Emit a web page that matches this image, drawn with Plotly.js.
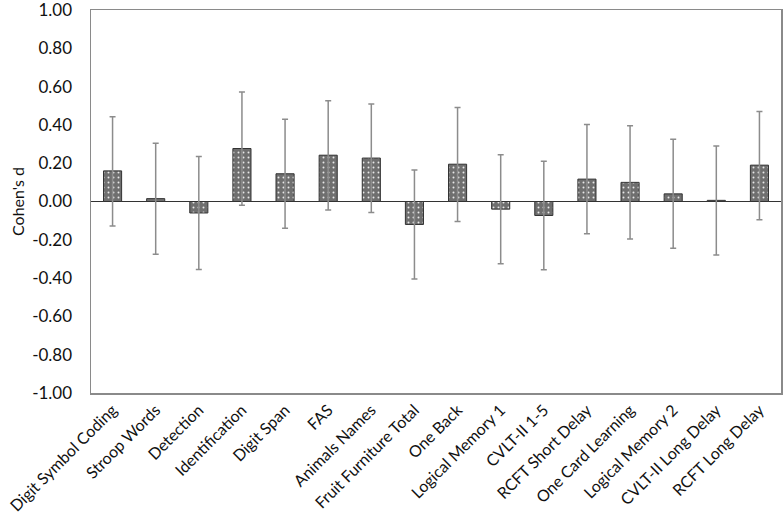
<!DOCTYPE html>
<html>
<head>
<meta charset="utf-8">
<script src="https://cdn.plot.ly/plotly-3.0.1.min.js"></script>
<style>
  html, body { margin: 0; padding: 0; background: #fff; }
  #grafica { width: 784px; height: 529px; }
</style>
</head>
<body>
<div id="grafica"></div>
<script>
// Pruebas y tamaño del efecto (Cohen's d) con intervalo de confianza
const pruebas = [
  'Digit Symbol Coding', 'Stroop Words', 'Detection', 'Identification',
  'Digit Span', 'FAS', 'Animals Names', 'Fruit Furniture Total',
  'One Back', 'Logical Memory 1', 'CVLT-II 1-5', 'RCFT Short Delay',
  'One Card Learning', 'Logical Memory 2', 'CVLT-II Long Delay', 'RCFT Long Delay'
];
const cohenD = [0.16, 0.015, -0.06, 0.277, 0.145, 0.242, 0.227, -0.12,
                0.195, -0.04, -0.073, 0.117, 0.10, 0.04, 0.006, 0.19];
const ciSup = [0.443, 0.304, 0.235, 0.573, 0.43, 0.526, 0.51, 0.165,
               0.492, 0.245, 0.21, 0.403, 0.396, 0.325, 0.29, 0.47];
const ciInf = [-0.128, -0.276, -0.355, -0.02, -0.14, -0.044, -0.058, -0.405,
               -0.105, -0.325, -0.357, -0.168, -0.196, -0.245, -0.28, -0.095];

const ejeVals = [1, 0.8, 0.6, 0.4, 0.2, 0, -0.2, -0.4, -0.6, -0.8, -1];
const ejeTexto = ['1.00', '0.80', '0.60', '0.40', '0.20', '0.00',
                  '-0.20', '-0.40', '-0.60', '-0.80', '-1.00'];

const fuente = 'Lato, Open Sans, sans-serif';

const barras = {
  x: pruebas,
  y: cohenD,
  type: 'bar',
  width: 0.42,
  marker: {
    color: '#6f6f6f',
    line: { color: '#333333', width: 1 },
    pattern: { shape: '.', fgcolor: '#e8e8e8', bgcolor: '#6f6f6f', size: 5, solidity: 0.12, fillmode: 'replace' }
  },
  error_y: {
    type: 'data',
    symmetric: false,
    array: cohenD.map((d, i) => ciSup[i] - d),
    arrayminus: cohenD.map((d, i) => d - ciInf[i]),
    color: '#8c8c8c',
    thickness: 1.5,
    width: 3
  },
  hoverinfo: 'x+y'
};

Plotly.newPlot('grafica', [barras], {
  width: 784,
  height: 529,
  margin: { l: 91, r: 3, t: 10, b: 136 },
  paper_bgcolor: '#ffffff',
  plot_bgcolor: '#ffffff',
  showlegend: false,
  xaxis: {
    type: 'category',
    tickangle: -45,
    tickfont: { family: fuente, size: 16, color: '#111' },
    showgrid: false,
    showline: true,
    mirror: true,
    linecolor: '#8a8a8a',
    linewidth: 1.5,
    ticks: '',
    zeroline: false
  },
  yaxis: {
    range: [-1.001, 1.001],
    tickvals: ejeVals,
    ticktext: ejeTexto,
    tickfont: { family: fuente, size: 17, color: '#111' },
    ticklabelstandoff: 14,
    ticklabeloverflow: 'allow',
    title: { text: "Cohen's d", font: { family: fuente, size: 16, color: '#111' }, standoff: 3 },
    showgrid: false,
    showline: true,
    mirror: true,
    linecolor: '#8a8a8a',
    linewidth: 1.5,
    ticks: '',
    zeroline: true,
    zerolinecolor: '#333333',
    zerolinewidth: 1.5
  }
}, { displayModeBar: false, staticPlot: true });
</script>
</body>
</html>
